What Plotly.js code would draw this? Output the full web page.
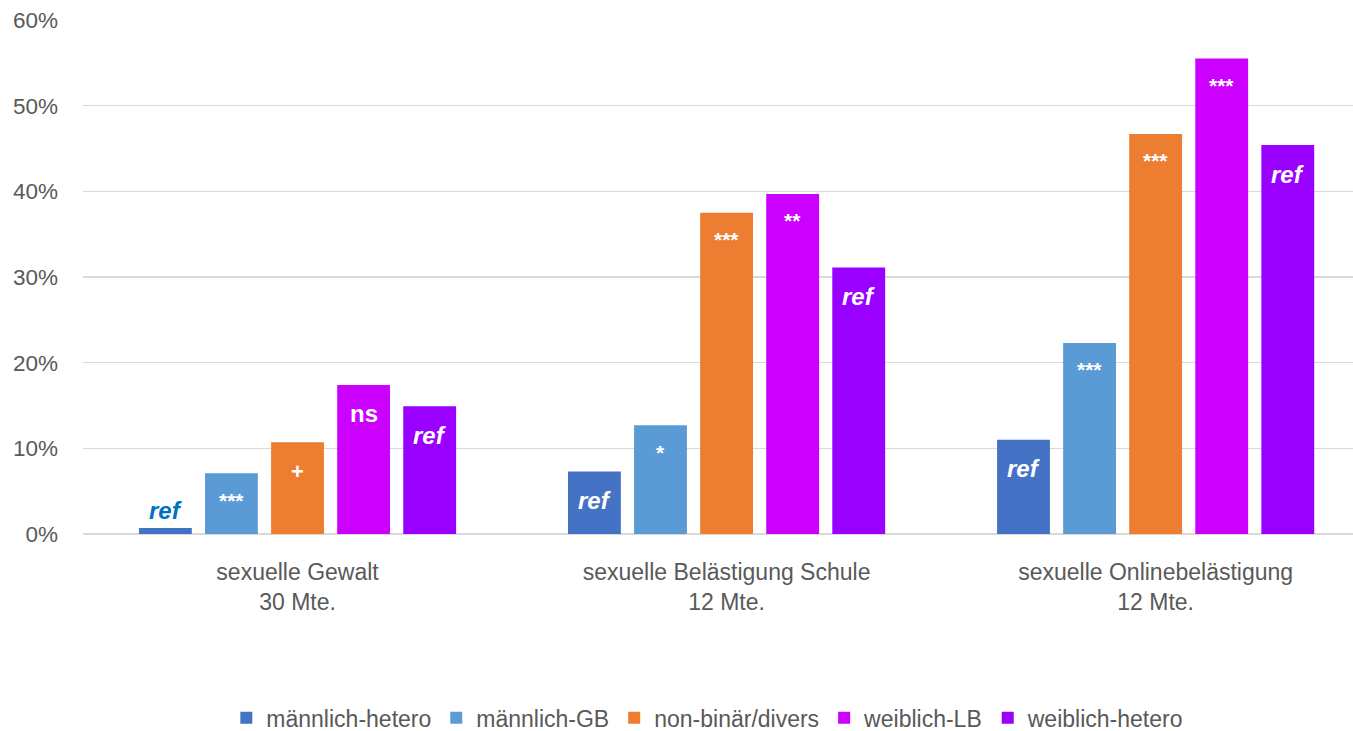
<!DOCTYPE html>
<html>
<head>
<meta charset="utf-8">
<script src="https://cdn.plot.ly/plotly-3.0.1.min.js"></script>
<style>html,body{margin:0;padding:0;background:#fff;}#chart{width:1353px;height:731px;}</style>
</head>
<body>
<div id="chart"></div>
<script>
const categories = ["sexuelle Gewalt<br>30 Mte.", "sexuelle Belästigung Schule<br>12 Mte.", "sexuelle Onlinebelästigung<br>12 Mte."];
const seriesNames = ["männlich-hetero", "männlich-GB", "non-binär/divers", "weiblich-LB", "weiblich-hetero"];
const maennlichHetero = [0.007, 0.073, 0.110];
const maennlichGB = [0.071, 0.127, 0.223];
const nonBinaer = [0.107, 0.375, 0.467];
const weiblichLB = [0.174, 0.397, 0.555];
const weiblichHetero = [0.149, 0.311, 0.454];
const labelsMH = ["ref", "ref", "ref"];
const labelsMGB = ["***", "*", "***"];
const labelsNB = ["+", "***", "***"];
const labelsWLB = ["ns", "**", "***"];
const labelsWH = ["ref", "ref", "ref"];
const colors = ["#4472C4", "#5B9BD5", "#ED7D31", "#CC00FF", "#9900FF"];

const values = [maennlichHetero, maennlichGB, nonBinaer, weiblichLB, weiblichHetero];
const labels = [labelsMH, labelsMGB, labelsNB, labelsWLB, labelsWH];
const font = "Liberation Sans, Arial, sans-serif";
const bargap = 0.23;
const slot = (1 - bargap) / values.length;

const traces = values.map((v, j) => ({
  type: "bar",
  name: seriesNames[j],
  x: categories,
  y: v,
  marker: {color: colors[j]},
  hoverinfo: "skip"
}));

const annotations = [];
values.forEach((v, j) => {
  v.forEach((val, i) => {
    const lab = labels[j][i];
    const isRef = lab === "ref";
    const isStar = lab.indexOf("*") >= 0;
    const outside = val < 0.03;
    annotations.push({
      x: i + (j - (values.length - 1) / 2) * slot,
      y: val,
      xref: "x", yref: "y",
      text: isRef ? "<b><i>" + lab + "</i></b>" : "<b>" + lab + "</b>",
      showarrow: false,
      yanchor: "middle",
      yshift: outside ? 18 : (isStar ? -27 : -29),
      font: {
        family: font,
        size: isRef ? 24 : (isStar ? 21 : (lab === "ns" ? 24 : 22)),
        color: outside ? "#0070C0" : "#FFFFFF"
      }
    });
  });
});

const layout = {
  width: 1353, height: 731,
  margin: {l: 83, r: 0, t: 20, b: 197},
  paper_bgcolor: "#fff", plot_bgcolor: "#fff",
  font: {family: font, color: "#595959", size: 23},
  barmode: "group",
  bargap: bargap,
  bargroupgap: 0.2,
  xaxis: {
    range: [-0.5, 2.46],
    showgrid: false, zeroline: false, showline: false,
    ticks: "", ticklabelstandoff: 22,
    tickfont: {size: 23, color: "#595959"}
  },
  yaxis: {
    range: [0, 0.6], dtick: 0.1, tickformat: ".0%",
    gridcolor: "#D9D9D9", gridwidth: 1.5,
    zeroline: true, zerolinecolor: "#D9D9D9", zerolinewidth: 1.5,
    showline: false, ticks: "", ticklabelstandoff: 24,
    tickfont: {size: 22.5, color: "#595959"}
  },
  showlegend: true,
  legend: {
    orientation: "h", xref: "paper", x: 0.492, xanchor: "center",
    yref: "container", y: 0.018, yanchor: "middle",
    font: {size: 23, color: "#595959"},
    traceorder: "normal"
  },
  annotations: annotations
};

Plotly.newPlot("chart", traces, layout, {displayModeBar: false, staticPlot: true});
</script>
</body>
</html>
